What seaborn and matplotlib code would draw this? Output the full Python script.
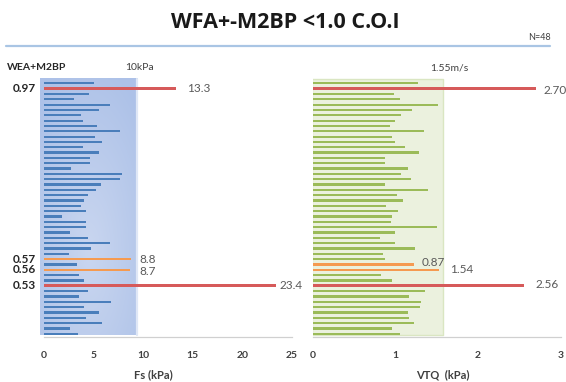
import numpy as np
import pandas as pd
import matplotlib
matplotlib.use("Agg")
import matplotlib.pyplot as plt
from matplotlib.lines import Line2D
import seaborn as sns

# ---------------- data ----------------
fs_values = [5.06, 13.3, 4.55, 3.10, 6.68, 5.63, 3.74, 3.94, 5.40, 7.67, 5.16, 5.84,
             4.01, 5.63, 4.72, 4.72, 2.79, 7.87, 7.67, 5.74, 5.26, 4.45, 4.04, 3.74,
             4.24, 1.85, 4.31, 4.31, 2.62, 4.45, 6.68, 4.82, 2.55, 8.8, 3.35, 8.7,
             3.61, 4.04, 23.4, 4.50, 3.62, 6.75, 4.04, 5.63, 4.31, 5.86, 2.70, 3.45]
vtq_values = [1.27, 2.70, 0.98, 1.05, 1.52, 1.20, 1.07, 0.99, 0.94, 1.35, 0.96, 0.99,
              1.12, 1.29, 0.87, 0.87, 1.15, 1.07, 1.19, 0.87, 1.40, 1.02, 1.09, 0.89,
              1.03, 0.96, 0.95, 1.50, 0.99, 0.81, 1.00, 1.24, 0.85, 0.87, 1.22, 1.53,
              0.83, 0.96, 2.56, 1.36, 1.16, 1.31, 1.30, 1.15, 1.17, 1.23, 0.96, 1.06]
fs_highlight = {1: "high", 33: "mid", 35: "mid", 38: "high"}
vtq_highlight = {1: "high", 34: "mid", 35: "mid", 38: "high"}
wfa_labels = {1: "0.97", 33: "0.57", 35: "0.56", 38: "0.53"}
fs_value_labels = {1: "13.3", 33: "8.8", 35: "8.7", 38: "23.4"}
vtq_value_labels = {1: "2.70", 34: "0.87", 35: "1.54", 38: "2.56"}
fs_ticks = [0, 5, 10, 15, 20, 25]
vtq_ticks = [0, 1, 2, 3]
fs_cutoff = 9.45
vtq_cutoff = 1.58

title = "WFA+-M2BP <1.0 C.O.I"
n_text = "N=48"

# ---------------- style ----------------
sns.set_style("white")
plt.rcParams["font.family"] = ["Lato", "DejaVu Sans"]

BLUE, GREEN, RED, ORANGE = "#4a7ebb", "#9bbb59", "#d65a5a", "#f59a50"
TXT = "#404040"
W, H = 566, 382

fig = plt.figure(figsize=(W / 100, H / 100), dpi=100)

def fx(px):
    return px / W

def fy(py):
    return 1 - py / H

ax_bottom = fy(337)
ax_h = (337 - 78) / H
axL = fig.add_axes([fx(43.5), ax_bottom, 248.5 / W, ax_h])
axR = fig.add_axes([fx(312.7), ax_bottom, 248 / W, ax_h])

n = len(fs_values)
idx = [str(i) for i in range(n)]


def colour_map(highlight, base):
    return {str(i): {"high": RED, "mid": ORANGE}.get(highlight.get(i), base) for i in range(n)}


def draw(ax, values, highlight, base, xlim, ticks):
    df = pd.DataFrame({"idx": idx, "val": values})
    sns.barplot(data=df, x="val", y="idx", hue="idx", palette=colour_map(highlight, base),
                dodge=False, legend=False, width=0.42, saturation=1, ax=ax, zorder=3,
                linewidth=0, edgecolor="none")
    for p in ax.patches:
        c = int(round(p.get_y() + p.get_height() / 2))
        kind = highlight.get(c)
        if kind:
            h = 0.52 if kind == "high" else 0.46
            p.set_y(c - h / 2)
            p.set_height(h)
    ax.set_xlim(*xlim)
    ax.set_ylim(47.6, -1.0)
    ax.set_yticks([])
    ax.set_ylabel("")
    ax.set_xlabel("")
    ax.set_xticks(ticks)
    ax.set_xticklabels([str(t) for t in ticks], fontweight="bold", fontsize=7.5, color=TXT)
    ax.tick_params(axis="x", length=3, width=0.8, color="#c8c8c8", pad=7)
    for s in ["left", "top", "right"]:
        ax.spines[s].set_visible(False)
    ax.spines["bottom"].set_color("#d0d0d0")
    ax.spines["bottom"].set_linewidth(0.9)
    ax.patch.set_alpha(0)


draw(axL, fs_values, fs_highlight, BLUE, (0, 25), fs_ticks)
draw(axR, vtq_values, vtq_highlight, GREEN, (0, 3), vtq_ticks)

# shaded background regions
yy, xx = np.mgrid[0:1:200j, 0:1:60j]
r = np.sqrt(((xx - 0.5) / 0.75) ** 2 + ((yy - 0.68) / 0.75) ** 2)
r = np.clip(r, 0, 1)
c_in = np.array([0.79, 0.84, 0.94])
c_out = np.array([0.68, 0.76, 0.91])
img = c_in[None, None, :] * (1 - r[..., None]) + c_out[None, None, :] * r[..., None]
axL.imshow(img, extent=(-0.35, fs_cutoff, 47.3, -0.75), aspect="auto", zorder=0,
           clip_on=False, interpolation="bilinear")
axL.plot([fs_cutoff, fs_cutoff], [-0.75, 47.3], color="#dfe7f6", lw=1.6, zorder=1, clip_on=False)
axL.set_xlim(0, 25)
axL.set_ylim(47.6, -1.0)

axR.fill_between([-0.01, vtq_cutoff], -0.75, 47.3, color="#ebf1de", edgecolor="#dae6c2",
                 lw=1.0, zorder=0)
axR.set_xlim(0, 3)
axR.set_ylim(47.6, -1.0)

# value labels
fs_lab_x = {1: 14.45, 33: 9.6, 35: 9.6, 38: 23.7}
fs_lab_y = {1: 1.0, 33: 33.0, 35: 35.4, 38: 38.0}
for k, t in fs_value_labels.items():
    axL.text(fs_lab_x[k], fs_lab_y[k], t, fontsize=8.5, color="#595959", va="center",
             ha="left", zorder=5, clip_on=False)
vtq_lab_x = {1: 2.79, 34: 1.32, 35: 1.66, 38: 2.69}
vtq_lab_y = {1: 1.3, 34: 33.6, 35: 35.0, 38: 37.8}
for k, t in vtq_value_labels.items():
    axR.text(vtq_lab_x[k], vtq_lab_y[k], t, fontsize=8.5, color="#595959", va="center",
             ha="left", zorder=5, clip_on=False)

# WFA labels at the left
for k, t in wfa_labels.items():
    axL.text(-0.75, k, t, fontsize=8.5, fontweight="bold", color="#262626", va="center",
             ha="right", clip_on=False)

# axis titles
fig.text(fx(153), fy(375), "Fs (kPa)", ha="center", va="center", fontsize=8,
         fontweight="bold", color=TXT)
fig.text(fx(443), fy(375), "VTQ  (kPa)", ha="center", va="center", fontsize=8,
         fontweight="bold", color=TXT)

# header texts
fig.text(fx(285), fy(22), title, ha="center", va="center", fontsize=15.5,
         fontweight="bold", color="#1a1a1a", family=["Open Sans", "DejaVu Sans"])
fig.add_artist(Line2D([fx(6), fx(550)], [fy(46), fy(46)], color="#a9c5e4", lw=1.6))
fig.text(fx(539), fy(37), n_text, ha="center", va="center", fontsize=6.5, color=TXT)
fig.text(fx(7), fy(67), "WEA+M2BP", ha="left", va="center", fontsize=7.5,
         fontweight="bold", color="#262626")
fig.text(fx(125), fy(67), "10kPa", ha="left", va="center", fontsize=7.5, color=TXT)
fig.text(fx(430), fy(68), "1.55m/s", ha="left", va="center", fontsize=7.5, color=TXT)

fig.savefig("out.png", dpi=100)
